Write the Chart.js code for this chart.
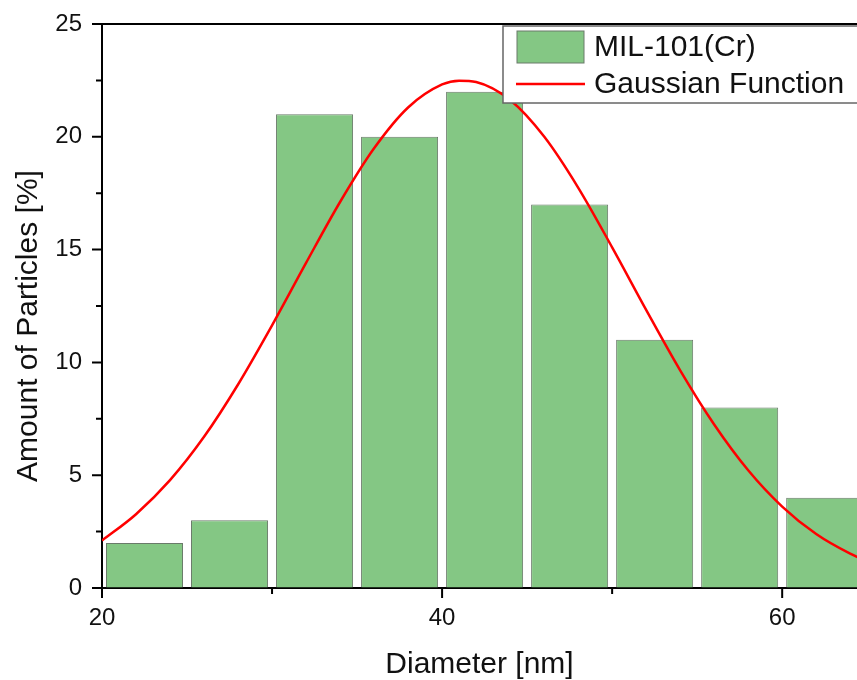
<!DOCTYPE html>
<html>
<head>
<meta charset="utf-8">
<script src="https://cdn.jsdelivr.net/npm/chart.js@4"></script>
<style>
  html, body { margin: 0; padding: 0; background: #fff; }
  canvas { display: block; }
</style>
</head>
<body>
<canvas id="size-chart" width="857" height="680"></canvas>
<script>
// histogram bins (centre of each 5 nm bin) and counts
const binCenters = [22.5, 27.5, 32.5, 37.5, 42.5, 47.5, 52.5, 57.5, 62.5];
const binPercent = [2, 3, 21, 20, 22, 17, 11, 8, 4];

// gaussian fit
const fitX = [20, 22, 24, 26, 28, 30, 32, 34, 36, 38, 40, 41, 42, 44, 46, 48, 50, 52, 54, 56, 58, 60, 62, 64, 65];
const fitY = [2.1, 3.27, 4.78, 6.7, 9.02, 11.64, 14.41, 17.11, 19.49, 21.3, 22.32, 22.49, 22.43, 21.63, 20.01, 17.75, 15.1, 12.33, 9.65, 7.25, 5.22, 3.61, 2.39, 1.52, 1.19];

const xMajor = [20, 40, 60];
const xMinor = [30, 50];
const yMajor = [0, 5, 10, 15, 20, 25];
const yMinor = [2.5, 7.5, 12.5, 17.5, 22.5];

const FONT = "'Liberation Sans', Arial, sans-serif";
const barGreen = '#84c784';
const barEdge = '#6a7a6a';

// ticks, top frame line, y title (sits a bit below centre) and the boxed legend
const framePlugin = {
  id: 'frame',
  afterDraw(chart) {
    const { ctx, chartArea, scales } = chart;
    ctx.save();
    ctx.strokeStyle = '#000';
    ctx.lineWidth = 2;
    ctx.beginPath();
    ctx.moveTo(chartArea.left - 1, chartArea.top);
    ctx.lineTo(chartArea.right, chartArea.top);
    const tick = (x1, y1, x2, y2) => { ctx.moveTo(x1, y1); ctx.lineTo(x2, y2); };
    xMajor.forEach(v => { const px = scales.x.getPixelForValue(v); tick(px, chartArea.bottom, px, chartArea.bottom + 10); });
    xMinor.forEach(v => { const px = scales.x.getPixelForValue(v); tick(px, chartArea.bottom, px, chartArea.bottom + 6); });
    yMajor.forEach(v => { const py = scales.y.getPixelForValue(v); tick(chartArea.left, py, chartArea.left - 10, py); });
    yMinor.forEach(v => { const py = scales.y.getPixelForValue(v); tick(chartArea.left, py, chartArea.left - 6, py); });
    ctx.stroke();

    const yTitle = scales.y.options.title;
    ctx.translate(29, (chartArea.top + chartArea.bottom) / 2 + 20);
    ctx.rotate(-Math.PI / 2);
    ctx.fillStyle = yTitle.color;
    ctx.font = '30px ' + FONT;
    ctx.textAlign = 'center';
    ctx.textBaseline = 'middle';
    ctx.fillText(yTitle.text, 0, 0);
    ctx.restore();
  },
  afterDatasetsDraw(chart) {
    const { ctx, chartArea } = chart;
    const bx = chartArea.right - 354, by = chartArea.top + 2;
    ctx.save();
    ctx.fillStyle = '#fff';
    ctx.strokeStyle = '#666';
    ctx.lineWidth = 1.5;
    ctx.fillRect(bx, by, 400, 77);
    ctx.strokeRect(bx, by, 400, 77);

    const bars = chart.data.datasets[0];
    const line = chart.data.datasets[1];
    ctx.fillStyle = bars.backgroundColor;
    ctx.strokeStyle = bars.borderColor;
    ctx.lineWidth = 1;
    ctx.fillRect(bx + 14, by + 5, 67, 32);
    ctx.strokeRect(bx + 14, by + 5, 67, 32);

    ctx.strokeStyle = line.borderColor;
    ctx.lineWidth = 2.5;
    ctx.beginPath();
    ctx.moveTo(bx + 13, by + 58);
    ctx.lineTo(bx + 82, by + 58);
    ctx.stroke();

    ctx.fillStyle = '#111';
    ctx.font = '30px ' + FONT;
    ctx.textBaseline = 'alphabetic';
    ctx.fillText(bars.label, bx + 91, by + 30);
    ctx.fillText(line.label, bx + 91, by + 67);
    ctx.restore();
  }
};

new Chart('size-chart', {
  type: 'bar',
  data: {
    datasets: [
      {
        label: 'MIL-101(Cr)',
        data: binCenters.map((c, i) => ({ x: c, y: binPercent[i] })),
        backgroundColor: barGreen,
        borderColor: barEdge,
        borderWidth: 1,
        barPercentage: 0.906,
        categoryPercentage: 1,
        order: 2,
      },
      {
        type: 'line',
        label: 'Gaussian Function',
        data: fitX.map((x, i) => ({ x: x, y: fitY[i] })),
        borderColor: '#ff0000',
        borderWidth: 2.5,
        pointRadius: 0,
        cubicInterpolationMode: 'monotone',
        fill: false,
        order: 1,
      },
    ],
  },
  options: {
    responsive: false,
    animation: false,
    layout: { padding: { top: 24, right: 0, bottom: 0, left: 0 } },
    plugins: {
      legend: { display: false },
      tooltip: { enabled: false },
    },
    scales: {
      x: {
        type: 'linear',
        min: 20,
        max: 64.4,
        offset: false,
        afterFit: s => { s.height = 92; s.paddingLeft = 0; s.paddingRight = 0; },
        grid: { display: true, drawOnChartArea: false, drawTicks: false, offset: false },
        border: { display: true, color: '#000', width: 2 },
        ticks: {
          stepSize: 20,
          includeBounds: false,
          padding: 16,
          color: '#111',
          font: { family: FONT, size: 24 },
          maxRotation: 0,
        },
        title: {
          display: true,
          text: 'Diameter [nm]',
          color: '#111',
          font: { family: FONT, size: 30, lineHeight: 1 },
          padding: { top: 0, bottom: 0 },
        },
      },
      y: {
        min: 0,
        max: 25,
        afterFit: s => { s.width = 102; s.paddingTop = 0; s.paddingBottom = 0; },
        grid: { display: true, drawOnChartArea: false, drawTicks: false },
        border: { display: true, color: '#000', width: 2 },
        ticks: {
          stepSize: 5,
          padding: 20,
          color: '#111',
          font: { family: FONT, size: 24 },
        },
        title: {
          display: false,
          text: 'Amount of Particles [%]',
          color: '#111',
        },
      },
    },
  },
  plugins: [framePlugin],
});
</script>
</body>
</html>
